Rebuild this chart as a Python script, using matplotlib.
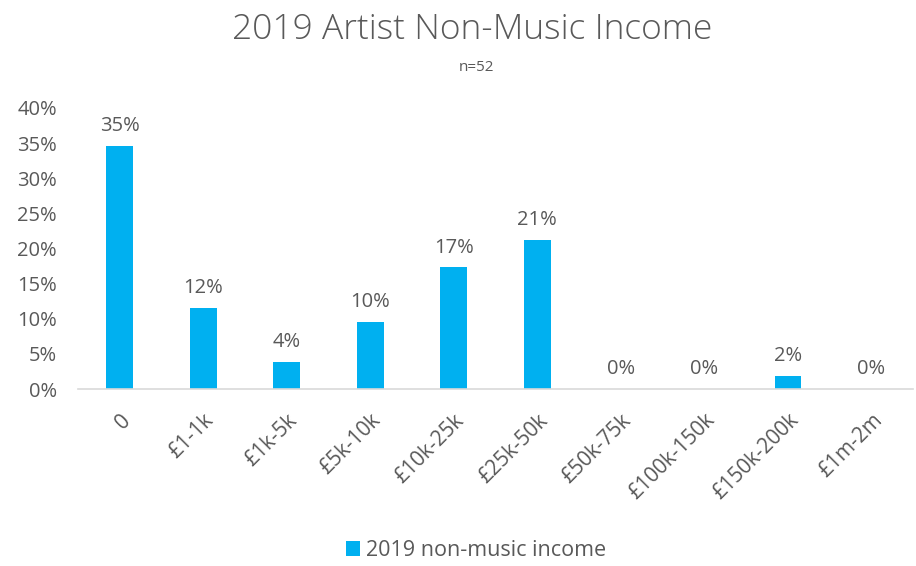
import matplotlib.pyplot as plt
from matplotlib.ticker import PercentFormatter

plt.rcParams['font.family'] = ['Open Sans', 'DejaVu Sans']

categories = ["0", "£1-1k", "£1k-5k", "£5k-10k", "£10k-25k", "£25k-50k",
              "£50k-75k", "£100k-150k", "£150k-200k", "£1m-2m"]
share = [34.6, 11.5, 3.8, 9.6, 17.3, 21.2, 0.0, 0.0, 1.9, 0.0]
series_name = "2019 non-music income"

grey = "#595959"
blue = "#00b0f0"
fs = 14.5

fig = plt.figure(figsize=(9.16, 5.66), dpi=100)
ax = fig.add_axes([0.085, 0.3127, 0.912, 0.4965])

bars = ax.bar(range(len(categories)), share, width=0.32, color=blue, label=series_name)
for b, v in zip(bars, share):
    ax.text(b.get_x() + b.get_width() / 2, v + 1.4, f"{v:.0f}%",
            ha="center", va="bottom", fontsize=fs, color=grey)

ax.set_xlim(-0.5, len(categories) - 0.5)
ax.set_ylim(0, 40)
ax.set_yticks(range(0, 41, 5))
ax.yaxis.set_major_formatter(PercentFormatter(decimals=0))
ax.set_xticks(range(len(categories)))
ax.set_xticklabels(categories, rotation=45, ha="right", rotation_mode="anchor")
ax.tick_params(axis="both", length=0, labelsize=fs, colors=grey)
ax.tick_params(axis="x", labelsize=15, pad=15)
ax.tick_params(axis="y", pad=15)

for s in ["top", "right", "left"]:
    ax.spines[s].set_visible(False)
ax.spines["bottom"].set_color("#d9d9d9")
ax.spines["bottom"].set_linewidth(1.2)

fig.text(0.515, 0.947, "2019 Artist Non-Music Income", ha="center", va="center",
         fontsize=25.5, fontweight="light", color=grey)
fig.text(0.52, 0.88, "n=52", ha="center", va="center", fontsize=11, color=grey)

fig.legend(loc="center", bbox_to_anchor=(0.52, 0.027), frameon=False,
           fontsize=15.5, labelcolor=grey, handlelength=0.65, handleheight=0.65,
           handletextpad=0.3)

fig.savefig("out.png", dpi=100)
